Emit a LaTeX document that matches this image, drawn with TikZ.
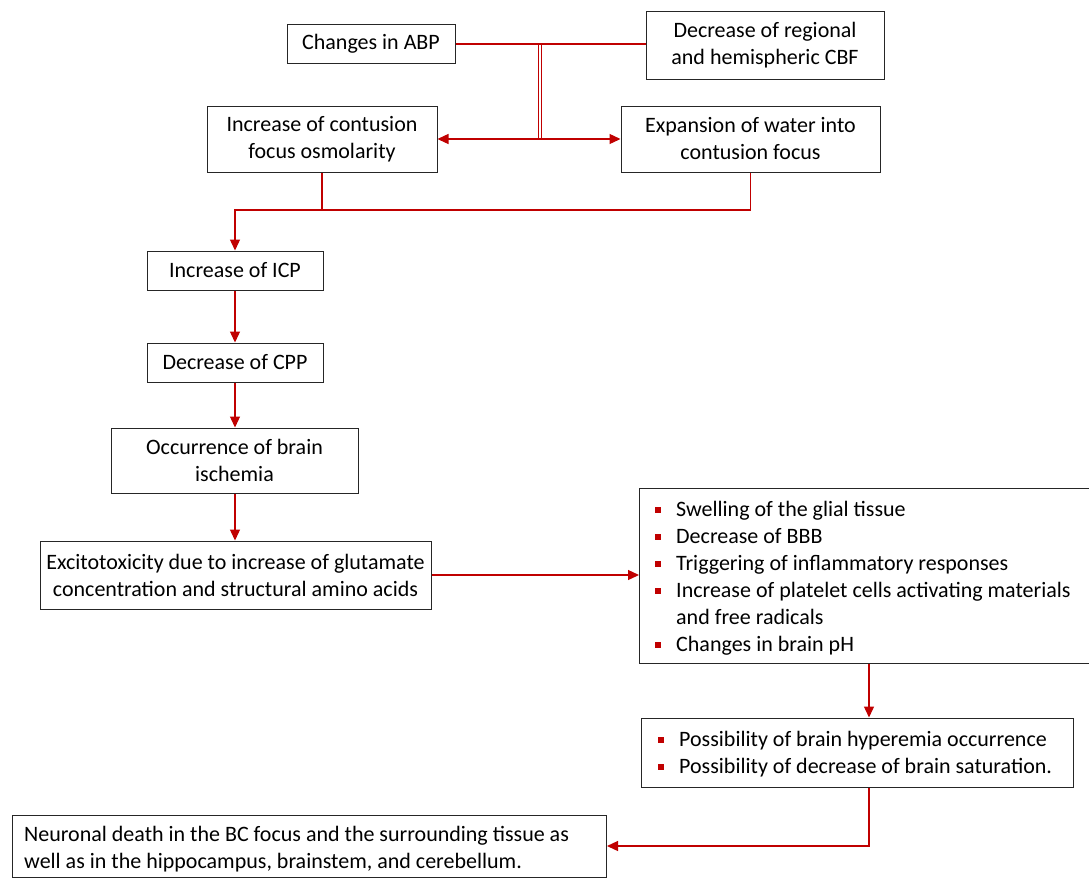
\documentclass[tikz,border=0pt]{standalone}
\usepackage{fontspec}
\setmainfont{Carlito}
\usetikzlibrary{arrows.meta}
\definecolor{bred}{HTML}{C00000}
\newcommand{\bul}{\makebox[21pt][l]{\textcolor{bred}{\rule[3.5pt]{6pt}{6pt}}}}
\begin{document}
\begin{tikzpicture}[x=1pt,y=-1pt,
  box/.style={draw=black!85, line width=1pt, fill=white, align=center, inner sep=0pt,
    font=\fontsize{22}{27}\selectfont},
  txt/.style={align=left, inner sep=0pt, anchor=west, font=\fontsize{22}{27}\selectfont},
  conn/.style={draw=bred, line width=1.3pt},
  arr/.style={conn, -{Triangle[length=11pt,width=10pt]}},
]
\useasboundingbox (0,0) rectangle (1089,879);
\node[box, minimum width=168, minimum height=39] (abp) at (371,44) {Changes in ABP};
\node[box, minimum width=238, minimum height=68] (cbf) at (765,45) {Decrease of regional\\and hemispheric CBF};
\node[box, minimum width=230, minimum height=66] (inc) at (322,139) {Increase of contusion\\focus osmolarity};
\node[box, minimum width=259, minimum height=66] (exp) at (750.5,139) {Expansion of water into\\contusion focus};
\node[box, minimum width=176, minimum height=39] (icp) at (235,270.5) {Increase of ICP};
\node[box, minimum width=176, minimum height=39] (cpp) at (235,362.5) {Decrease of CPP};
\node[box, minimum width=247, minimum height=65] (isch) at (234.5,460.5) {Occurrence of brain\\ischemia};
\node[box, minimum width=391, minimum height=68] (exc) at (235.5,575) {Excitotoxicity due to increase of glutamate\\concentration and structural amino acids};

\node[box, anchor=west, minimum width=470, minimum height=175] (fx) at (639,575.5) {};
\node[txt] (fxt) at ([xshift=16pt,yshift=-3pt]fx.west)
  {\bul Swelling of the glial tissue\\
   \bul Decrease of BBB\\
   \bul Triggering of inflammatory responses\\
   \bul Increase of platelet cells activating materials\\
   \hspace*{21pt}and free radicals\\
   \bul Changes in brain pH};
\node[box, anchor=west, minimum width=432, minimum height=69] (pos) at (641,752.5) {};
\node[txt] (post) at ([xshift=17pt,yshift=-2pt]pos.west)
  {\bul Possibility of brain hyperemia occurrence\\
   \bul Possibility of decrease of brain saturation.};
\node[box, anchor=west, minimum width=594, minimum height=62] (neu) at (12,846) {};
\node[txt] (neut) at ([xshift=12pt,yshift=-3pt]neu.west)
  {Neuronal death in the BC focus and the surrounding tissue as\\
   well as in the hippocampus, brainstem, and cerebellum.};

\coordinate (j1a) at (538.5,44);
\coordinate (j2a) at (538.5,139);
\coordinate (j1b) at (541.5,44);
\coordinate (j2b) at (541.5,139);
\coordinate (j2) at (540,139);
\coordinate (m1) at (322,210);
\coordinate (m2) at (235,210);
\coordinate (c1) at (869,0);

\draw[conn] (abp.east) -- (cbf.west |- abp.east);
\draw[conn, line width=1.3pt] (j1a) -- (j2a);
\draw[conn, line width=1.3pt] (j1b) -- (j2b);
\draw[arr] (j2) -- (inc.east);
\draw[arr] (j2) -- (exp.west);
\draw[conn] (inc.south) -- (m1);
\draw[arr] (exp.south) |- (m2) -- (icp.north);
\draw[arr] (icp.south) -- (cpp.north);
\draw[arr] (cpp.south) -- (isch.north -| cpp.south);
\draw[arr] (isch.south -| cpp.south) -- (exc.north -| cpp.south);
\draw[arr] (exc.east) -- (fx.west |- exc.east);
\draw[arr] (fx.south -| c1) -- (pos.north -| c1);
\draw[arr] (pos.south -| c1) |- (neu.east);
\end{tikzpicture}
\end{document}
